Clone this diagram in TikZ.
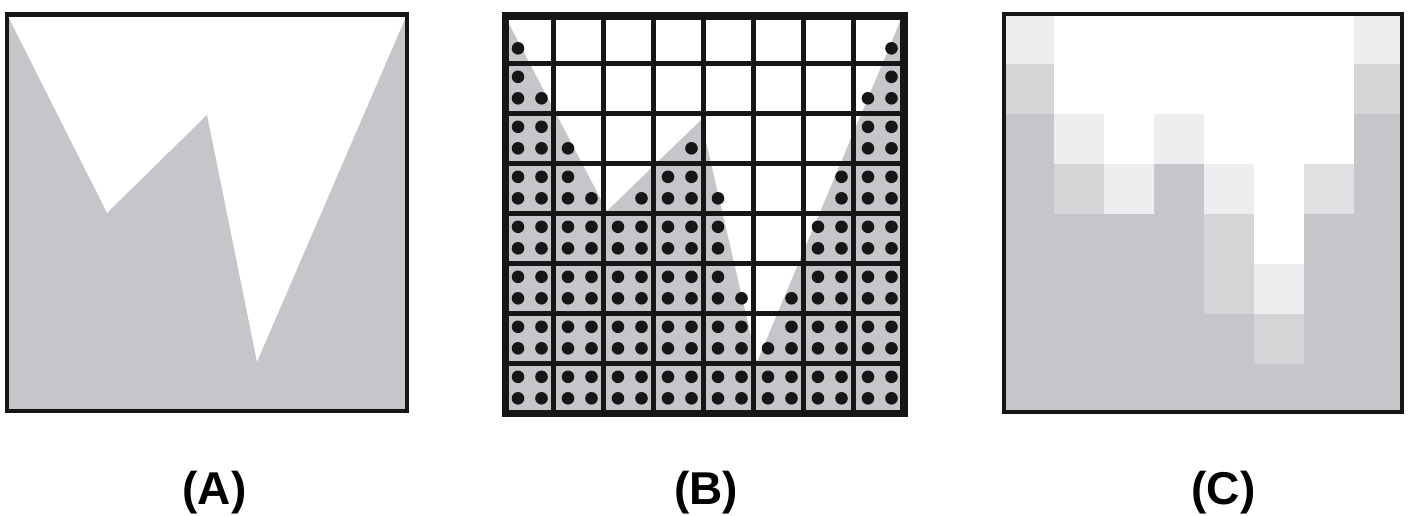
\documentclass[tikz,border=0pt]{standalone}
\usepackage{fontspec}
\setmainfont{Liberation Sans}
\definecolor{basegray}{RGB}{196,198,201}
\definecolor{ink}{RGB}{22,22,22}
\begin{document}
\begin{tikzpicture}[x=1pt,y=-1pt,
  frameline/.style={draw=ink, line width=4.8pt},
  outerline/.style={draw=ink, line width=7.5pt},
  gridline/.style={draw=ink, line width=5pt},
  dotfill/.style={fill=ink},
  lbl/.style={font=\fontsize{46}{46}\selectfont\bfseries, anchor=base, inner sep=0pt}]
\useasboundingbox (0,0) rectangle (1411,515);
\fill[white] (0,0) rectangle (1411,515);

% ---------- Panel A ----------
\begin{scope}
  \clip (7,14.5) rectangle (407,411);
  \fill[basegray] (7,14.5) -- (107,213) -- (207,115) -- (257,362) -- (407,14.5)
     -- (407,411) -- (7,411) -- cycle;
\end{scope}
\draw[frameline] (7,14.5) rectangle (407,411);

% ---------- Panel B ----------
\begin{scope}
  \clip (503.5,13.5) rectangle (903.5,413.5);
  \fill[basegray] (503.5,13.5) -- (607,211) -- (701,120) -- (757,362) -- (903.5,13.5)
     -- (903.5,413.5) -- (503.5,413.5) -- cycle;
\end{scope}
% dots
\foreach \r/\c in {2/0,2/7,3/0,3/3,3/7,
  4/0,4/1,4/2,4/3,4/6,4/7,
  5/0,5/1,5/2,5/3,5/6,5/7,
  6/0,6/1,6/2,6/3,6/4,6/6,6/7,
  7/0,7/1,7/2,7/3,7/4,7/5,7/6,7/7}{
  \foreach \dx in {14.5,38}{
    \foreach \dy in {13.5,35}{
      \fill[dotfill] (503.5+50*\c+\dx,13.3+50*\r+\dy) circle (6.3);
    }
  }
}
\foreach \r/\c/\tl/\tr/\bl/\br in {0/0/0/0/1/0, 0/7/0/0/0/1,
  1/0/1/0/1/1, 1/7/0/1/1/1,
  2/1/0/0/1/0, 2/3/0/0/0/1,
  3/1/1/0/1/1, 3/2/0/0/0/1, 3/4/0/0/1/0, 3/6/0/1/0/1,
  4/4/1/0/1/0,
  5/4/1/0/1/1, 5/5/0/0/0/1,
  6/5/0/1/1/1}{
  \ifnum\tl=1 \fill[dotfill] (503.5+50*\c+14.5,13.3+50*\r+13.5) circle (6.3); \fi
  \ifnum\tr=1 \fill[dotfill] (503.5+50*\c+38,13.3+50*\r+13.5) circle (6.3); \fi
  \ifnum\bl=1 \fill[dotfill] (503.5+50*\c+14.5,13.3+50*\r+35) circle (6.3); \fi
  \ifnum\br=1 \fill[dotfill] (503.5+50*\c+38,13.3+50*\r+35) circle (6.3); \fi
}
% grid
\foreach \i in {1,...,7}{
  \draw[gridline] (503+50*\i,16) -- (503+50*\i,413.5);
  \draw[gridline] (505.5,13.3+50*\i) -- (904,13.3+50*\i);
}
\draw[outerline] (505.5,16) rectangle (904,413.5);

% ---------- Panel C ----------
\begin{scope}
  \clip (1004,14) rectangle (1402,412);
  \fill[basegray] (1003.5,13.5) rectangle (1403.5,413.5);
  \foreach \r/\c/\v in {0/0/30,0/1/0,0/2/0,0/3/0,0/4/0,0/5/0,0/6/0,0/7/30,
    1/0/74,1/1/0,1/2/0,1/3/0,1/4/0,1/5/0,1/6/0,1/7/74,
    2/1/30,2/2/0,2/3/30,2/4/0,2/5/0,2/6/0,
    3/1/74,3/2/30,3/4/30,3/5/0,3/6/52,
    4/4/74,4/5/0,
    5/4/74,5/5/30,
    6/5/74}{
    \fill[basegray!\v!white] (1003.5+50*\c,13.5+50*\r) rectangle (1053.5+50*\c,63.5+50*\r);
  }
\end{scope}
\draw[frameline] (1004,14) rectangle (1402,412);

% ---------- Labels ----------
\node[lbl] (labA) at (214.5,504) {(A)};
\node[lbl] (labB) at (706,504) {(B)};
\node[lbl] (labC) at (1223.5,504) {(C)};
\end{tikzpicture}
\end{document}
